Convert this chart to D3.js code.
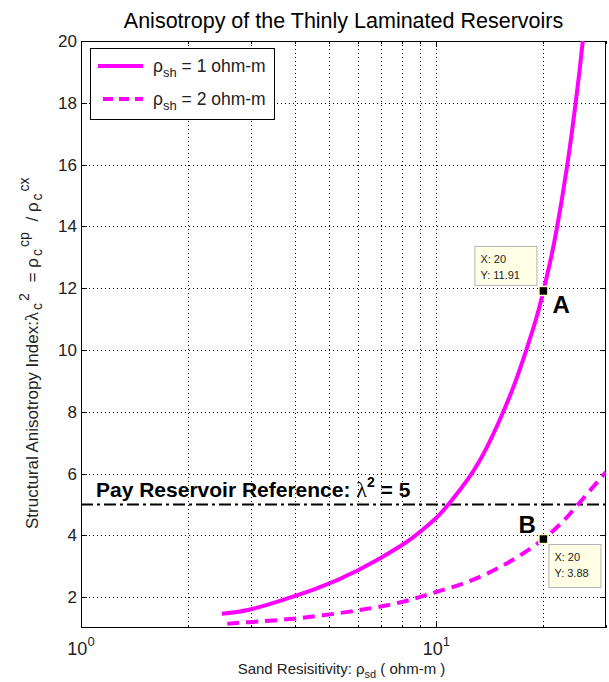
<!DOCTYPE html>
<html>
<head>
<meta charset="utf-8">
<script src="https://cdn.jsdelivr.net/npm/d3@7"></script>
<style>
  body { margin: 0; background: #fff; }
  svg { display: block; }
  text { font-family: "Liberation Sans", Arial, Helvetica, sans-serif; }
</style>
</head>
<body>
<svg id="chart" width="609" height="682"></svg>
<script>
// Sand resistivity (ohm-m) and anisotropy index for shale resistivity 1 ohm-m
const sandRes1 = [2.49, 2.97, 3.70, 4.61, 6.00, 7.99, 9.08, 10, 10.86, 12.40, 13.85, 15.24, 16.59, 17.87, 19.07, 20, 21.03, 21.87, 22.63, 23.35, 24.02, 24.65, 25.25, 25.81];
const anis1    = [1.46, 1.59, 1.91, 2.28, 2.86, 3.68, 4.15, 4.57, 5.03, 5.9, 6.84, 7.86, 8.9, 9.97, 11.0, 11.91, 13, 14, 15, 16, 17, 18, 19, 20];
// Same for shale resistivity 2 ohm-m
const sandRes2 = [2.58, 2.97, 4.04, 6.00, 7.99, 9.95, 13.83, 20, 25.04, 30];
const anis2    = [1.14, 1.19, 1.31, 1.57, 1.84, 2.16, 2.75, 3.88, 5.0, 6.05];

const yTicks = [2, 4, 6, 8, 10, 12, 14, 16, 18, 20];
const xMajor = [1, 10];
const xMinor = [2, 3, 4, 5, 6, 7, 8, 9, 20, 30];
const payLevel = 5;
const tips = [
  { x: 20, y: 11.91, name: "A" },
  { x: 20, y: 3.88, name: "B" }
];

const svg = d3.select("#chart");
const L = 81, R = 606, T = 41, B = 628;

const x = d3.scaleLog().domain([1, 30]).range([L, R]);
const y = d3.scaleLinear().domain([1, 20]).range([B, T]);

// dotted grid
const grid = svg.append("g").attr("stroke", "#000").attr("stroke-width", 1)
  .attr("stroke-dasharray", "1,3").attr("fill", "none");
yTicks.filter(v => v < 20).forEach(v => {
  grid.append("line").attr("x1", L).attr("x2", R).attr("y1", Math.round(y(v)) + 0.5).attr("y2", Math.round(y(v)) + 0.5);
});
xMajor.concat(xMinor).filter(v => v > 1 && v < 30).forEach(v => {
  grid.append("line").attr("x1", Math.round(x(v)) + 0.5).attr("x2", Math.round(x(v)) + 0.5).attr("y1", T).attr("y2", B);
});

// axes frame with inward ticks
svg.append("rect").attr("x", L + 0.5).attr("y", T + 0.5).attr("width", R - L - 1).attr("height", B - T - 1)
  .attr("fill", "none").attr("stroke", "#000");
const ax = svg.append("g").attr("stroke", "#000").attr("stroke-width", 1);
yTicks.forEach(v => {
  const py = Math.round(y(v)) + 0.5;
  ax.append("line").attr("x1", L).attr("x2", L + 6).attr("y1", py).attr("y2", py);
  ax.append("line").attr("x1", R - 6).attr("x2", R).attr("y1", py).attr("y2", py);
});
xMajor.forEach(v => {
  const px = Math.round(x(v)) + 0.5;
  ax.append("line").attr("x1", px).attr("x2", px).attr("y1", B).attr("y2", B - 6);
  ax.append("line").attr("x1", px).attr("x2", px).attr("y1", T).attr("y2", T + 6);
});
xMinor.forEach(v => {
  const px = Math.round(x(v)) + 0.5;
  ax.append("line").attr("x1", px).attr("x2", px).attr("y1", B).attr("y2", B - 3);
  ax.append("line").attr("x1", px).attr("x2", px).attr("y1", T).attr("y2", T + 3);
});

// y tick labels
svg.append("g").selectAll("text").data(yTicks).join("text")
  .attr("x", L - 4).attr("y", d => y(d)).attr("dy", "0.36em")
  .attr("text-anchor", "end").attr("font-size", 17).attr("fill", "#222")
  .text(d => d);

// x tick labels as powers of ten
xMajor.forEach(v => {
  const t = svg.append("text").attr("x", x(v)).attr("y", 655).attr("text-anchor", "middle")
    .attr("font-size", 18).attr("fill", "#222");
  t.append("tspan").text("10");
  t.append("tspan").attr("dy", -9).attr("font-size", 13).text(Math.round(Math.log10(v)));
});

// title
svg.append("text").attr("x", (L + R) / 2).attr("y", 28).attr("text-anchor", "middle")
  .attr("font-size", 21.5).attr("fill", "#000")
  .text("Anisotropy of the Thinly Laminated Reservoirs");

// x axis label
const xl = svg.append("text").attr("x", (L + R) / 2 - 2).attr("y", 674).attr("text-anchor", "middle")
  .attr("font-size", 15).attr("fill", "#222");
xl.append("tspan").text("Sand Resisitivity: ρ");
xl.append("tspan").attr("dy", 4).attr("font-size", 11).text("sd");
xl.append("tspan").attr("dy", -4).text(" ( ohm-m )");

// y axis label, written bottom-up from its start
const yl = svg.append("text").attr("transform", "translate(38,529) rotate(-90)")
  .attr("text-anchor", "start").attr("font-size", 17).attr("fill", "#222");
const sub = (s) => yl.append("tspan").attr("dy", 4).attr("dx", 2).attr("font-size", 14).text(s);
const sup = (s) => yl.append("tspan").attr("dy", -13).attr("dx", 2).attr("font-size", 14).text(s);
yl.append("tspan").text("Structural Anisotropy Index:");
yl.append("tspan").attr("font-family", "'Liberation Serif', serif").attr("font-size", 19).text("λ");
sub("c");
sup("2");
yl.append("tspan").attr("dy", 9).attr("dx", 6).text(" = ρ");
sub("c");
sup("cp");
yl.append("tspan").attr("dy", 9).attr("dx", 6).text(" / ρ");
sub("c");
sup("cx");

// pay reference line
svg.append("line").attr("x1", L).attr("x2", R).attr("y1", y(payLevel)).attr("y2", y(payLevel))
  .attr("stroke", "#000").attr("stroke-width", 2).attr("stroke-dasharray", "12,4,3,4");
const pt = svg.append("text").attr("x", 96).attr("y", 497).attr("font-size", 21)
  .attr("font-weight", "bold").attr("fill", "#000");
pt.append("tspan").text("Pay Reservoir Reference: ");
pt.append("tspan").attr("font-family", "'Liberation Serif', serif").attr("font-weight", "normal").attr("font-size", 22).text("λ");
pt.append("tspan").attr("dy", -10).attr("font-size", 14).text("2");
pt.append("tspan").attr("dy", 10).text(" = " + payLevel);

// curves
const line = d3.line().x(d => x(d[0])).y(d => y(d[1])).curve(d3.curveNatural);
svg.append("clipPath").attr("id", "plotClip")
  .append("rect").attr("x", L).attr("y", T).attr("width", R - L).attr("height", B - T);
const curves = svg.append("g").attr("clip-path", "url(#plotClip)");
curves.append("path").datum(d3.zip(sandRes1, anis1)).attr("d", line)
  .attr("fill", "none").attr("stroke", "#ff00ff").attr("stroke-width", 4);
curves.append("path").datum(d3.zip(sandRes2, anis2)).attr("d", line)
  .attr("fill", "none").attr("stroke", "#ff00ff").attr("stroke-width", 4).attr("stroke-dasharray", "12,7");

// data tips
const tipBoxes = [
  { dx: -69, dy: -45, w: 62, h: 39 },
  { dx: 5, dy: 5, w: 52, h: 43 }
];
tips.forEach((d, i) => {
  const px = x(d.x), py = y(d.y), b = tipBoxes[i];
  const g = svg.append("g");
  g.append("rect").attr("x", px + b.dx + 0.5).attr("y", py + b.dy + 0.5).attr("width", b.w).attr("height", b.h)
    .attr("fill", "#ffffe6").attr("stroke", "#b4b4b4");
  g.append("text").attr("x", px + b.dx + 6).attr("y", py + b.dy + 17).attr("font-size", 11).attr("fill", "#222")
    .text("X: " + d.x);
  g.append("text").attr("x", px + b.dx + 6).attr("y", py + b.dy + 33).attr("font-size", 11).attr("fill", "#222")
    .text("Y: " + d.y);
  svg.append("rect").attr("x", px - 4.5).attr("y", py - 4.5).attr("width", 9).attr("height", 9)
    .attr("fill", "#000").attr("stroke", "#ffffc8").attr("stroke-width", 1.5);
});
svg.append("text").attr("x", x(tips[0].x) + 9).attr("y", y(tips[0].y) + 22).attr("font-size", 24)
  .attr("font-weight", "bold").text(tips[0].name);
svg.append("text").attr("x", x(tips[1].x) - 25).attr("y", y(tips[1].y) - 6).attr("font-size", 24)
  .attr("font-weight", "bold").text(tips[1].name);

// legend
const lg = svg.append("g");
lg.append("rect").attr("x", 90.5).attr("y", 48.5).attr("width", 184).attr("height", 71)
  .attr("fill", "#fff").attr("stroke", "#000");
[{ dash: null, label: "1", yy: 66 }, { dash: "10,6", label: "2", yy: 99 }].forEach(e => {
  lg.append("line").attr("x1", e.dash ? 103 : 98).attr("x2", 143).attr("y1", e.yy).attr("y2", e.yy)
    .attr("stroke", "#ff00ff").attr("stroke-width", 4).attr("stroke-dasharray", e.dash);
  const t = lg.append("text").attr("x", 153).attr("y", e.yy + 6).attr("font-size", 17.5).attr("fill", "#222");
  t.append("tspan").text("ρ");
  t.append("tspan").attr("dy", 5).attr("font-size", 13).text("sh");
  t.append("tspan").attr("dy", -5).text(" = " + e.label + " ohm-m");
});
</script>
</body>
</html>
